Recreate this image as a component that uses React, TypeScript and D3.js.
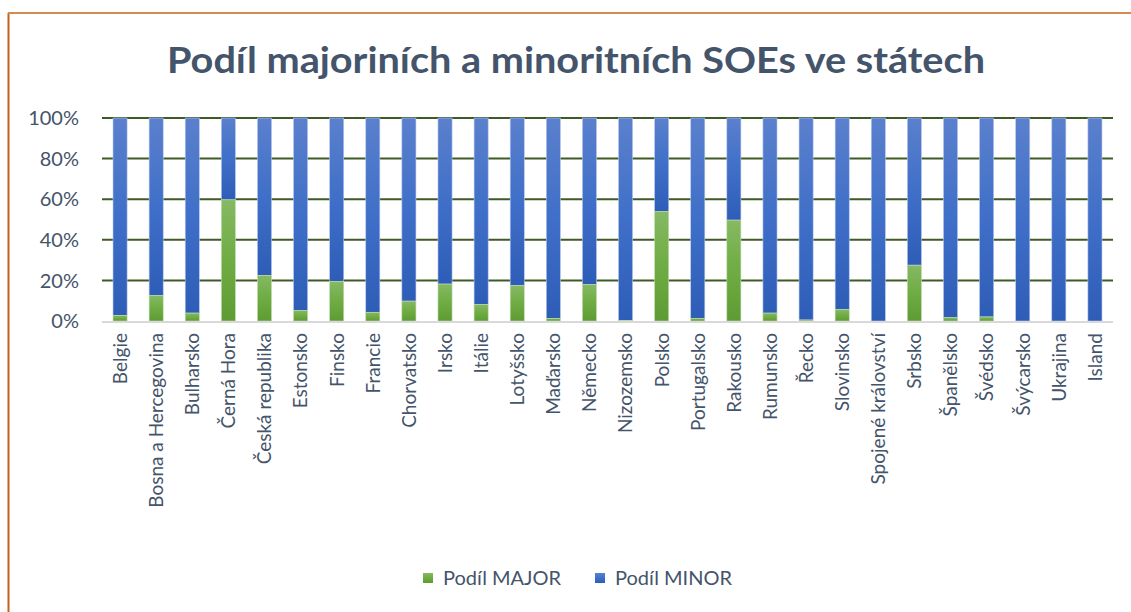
import React from "react";
import * as d3 from "d3";

const categories = [
  "Belgie", "Bosna a Hercegovina", "Bulharsko", "Černá Hora", "Česká republika",
  "Estonsko", "Finsko", "Francie", "Chorvatsko", "Irsko", "Itálie", "Lotyšsko",
  "Maďarsko", "Německo", "Nizozemsko", "Polsko", "Portugalsko", "Rakousko",
  "Rumunsko", "Řecko", "Slovinsko", "Spojené království", "Srbsko", "Španělsko",
  "Švédsko", "Švýcarsko", "Ukrajina", "Island",
];

const major = [
  0.028, 0.126, 0.039, 0.597, 0.225, 0.052, 0.195, 0.043, 0.098, 0.182, 0.081, 0.174,
  0.013, 0.179, 0.002, 0.539, 0.013, 0.497, 0.039, 0.005, 0.057, 0.0, 0.275, 0.016,
  0.02, 0.0, 0.0, 0.0,
];
const minor = major.map((v) => 1 - v);

const yTicks = [0, 0.2, 0.4, 0.6, 0.8, 1];
const title = "Podíl majoriních a minoritních SOEs ve státech";
const seriesNames = ["Podíl MAJOR", "Podíl MINOR"];

const W = 1131;
const H = 612;
const FONT = "Lato, 'Open Sans', sans-serif";
const TEXT = "#44546a";

export default function App() {
  const x = d3.scaleBand<string>().domain(categories).range([102, 1113]).paddingInner(0.61).paddingOuter(0.305);
  const y = d3.scaleLinear().domain([0, 1]).range([321, 118]);
  const fmt = d3.format(".0%");
  const bw = x.bandwidth();

  return (
    <svg width={W} height={H} style={{ position: "absolute", left: 0, top: 0, background: "#fff" }}>
      <defs>
        <linearGradient id="gMajor" x1="0" y1="0" x2="0" y2="1">
          <stop offset="0" stopColor="#86b964" />
          <stop offset="0.5" stopColor="#6fac43" />
          <stop offset="1" stopColor="#5e9b34" />
        </linearGradient>
        <linearGradient id="gMinor" x1="0" y1="0" x2="0" y2="1">
          <stop offset="0" stopColor="#5b80cd" />
          <stop offset="0.5" stopColor="#3f6fc8" />
          <stop offset="1" stopColor="#2d5db7" />
        </linearGradient>
      </defs>
      <rect x={0} y={0} width={W} height={H} fill="#fff" />
      {/* outer border */}
      <line x1={8.5} y1={13} x2={8.5} y2={H} stroke="#c5611b" strokeWidth={2} />
      <line x1={8} y1={13} x2={W} y2={13} stroke="#d58a53" strokeWidth={2} />

      <text x={576} y={73} textAnchor="middle" fontFamily={FONT} fontWeight={700} fontSize={36}
        fill={TEXT} textLength={818} lengthAdjust="spacingAndGlyphs">{title}</text>

      {/* gridlines */}
      {yTicks.filter((t) => t > 0).map((t) => (
        <line key={t} x1={102} x2={1113} y1={y(t)} y2={y(t)} stroke="#3e5a25" strokeWidth={2} />
      ))}
      {yTicks.map((t) => (
        <text key={"l" + t} x={79} y={y(t)} dy="0.36em" textAnchor="end" fontFamily={FONT}
          fontSize={20} fill={TEXT}>{fmt(t)}</text>
      ))}

      {/* bars */}
      {categories.map((c, i) => {
        const x0 = x(c)!;
        return (
          <g key={c}>
            {minor[i] > 0 && (
              <rect x={x0} y={y(1)} width={bw} height={y(major[i]) - y(1)} fill="url(#gMinor)"
                stroke="#b7c7ea" strokeWidth={0.6} />
            )}
            {major[i] > 0 && (
              <rect x={x0} y={y(major[i])} width={bw} height={y(0) - y(major[i])} fill="url(#gMajor)"
                stroke="#c2dcae" strokeWidth={0.6} />
            )}
          </g>
        );
      })}
      {/* baseline */}
      <line x1={102} x2={1113} y1={y(0) + 1} y2={y(0) + 1} stroke="#d9d9d9" strokeWidth={2} />

      {/* x labels */}
      {categories.map((c) => (
        <text key={"x" + c} transform={`translate(${x(c)! + bw / 2},333) rotate(-90)`} dy="0.36em"
          textAnchor="end" fontFamily={FONT} fontSize={19} fill={TEXT}>{c}</text>
      ))}

      {/* legend */}
      <rect x={423} y={573} width={10} height={10} fill="url(#gMajor)" />
      <text x={443} y={585} fontFamily={FONT} fontSize={20} fill={TEXT}>{seriesNames[0]}</text>
      <rect x={595} y={573} width={10} height={10} fill="url(#gMinor)" />
      <text x={615} y={585} fontFamily={FONT} fontSize={20} fill={TEXT}>{seriesNames[1]}</text>
    </svg>
  );
}
